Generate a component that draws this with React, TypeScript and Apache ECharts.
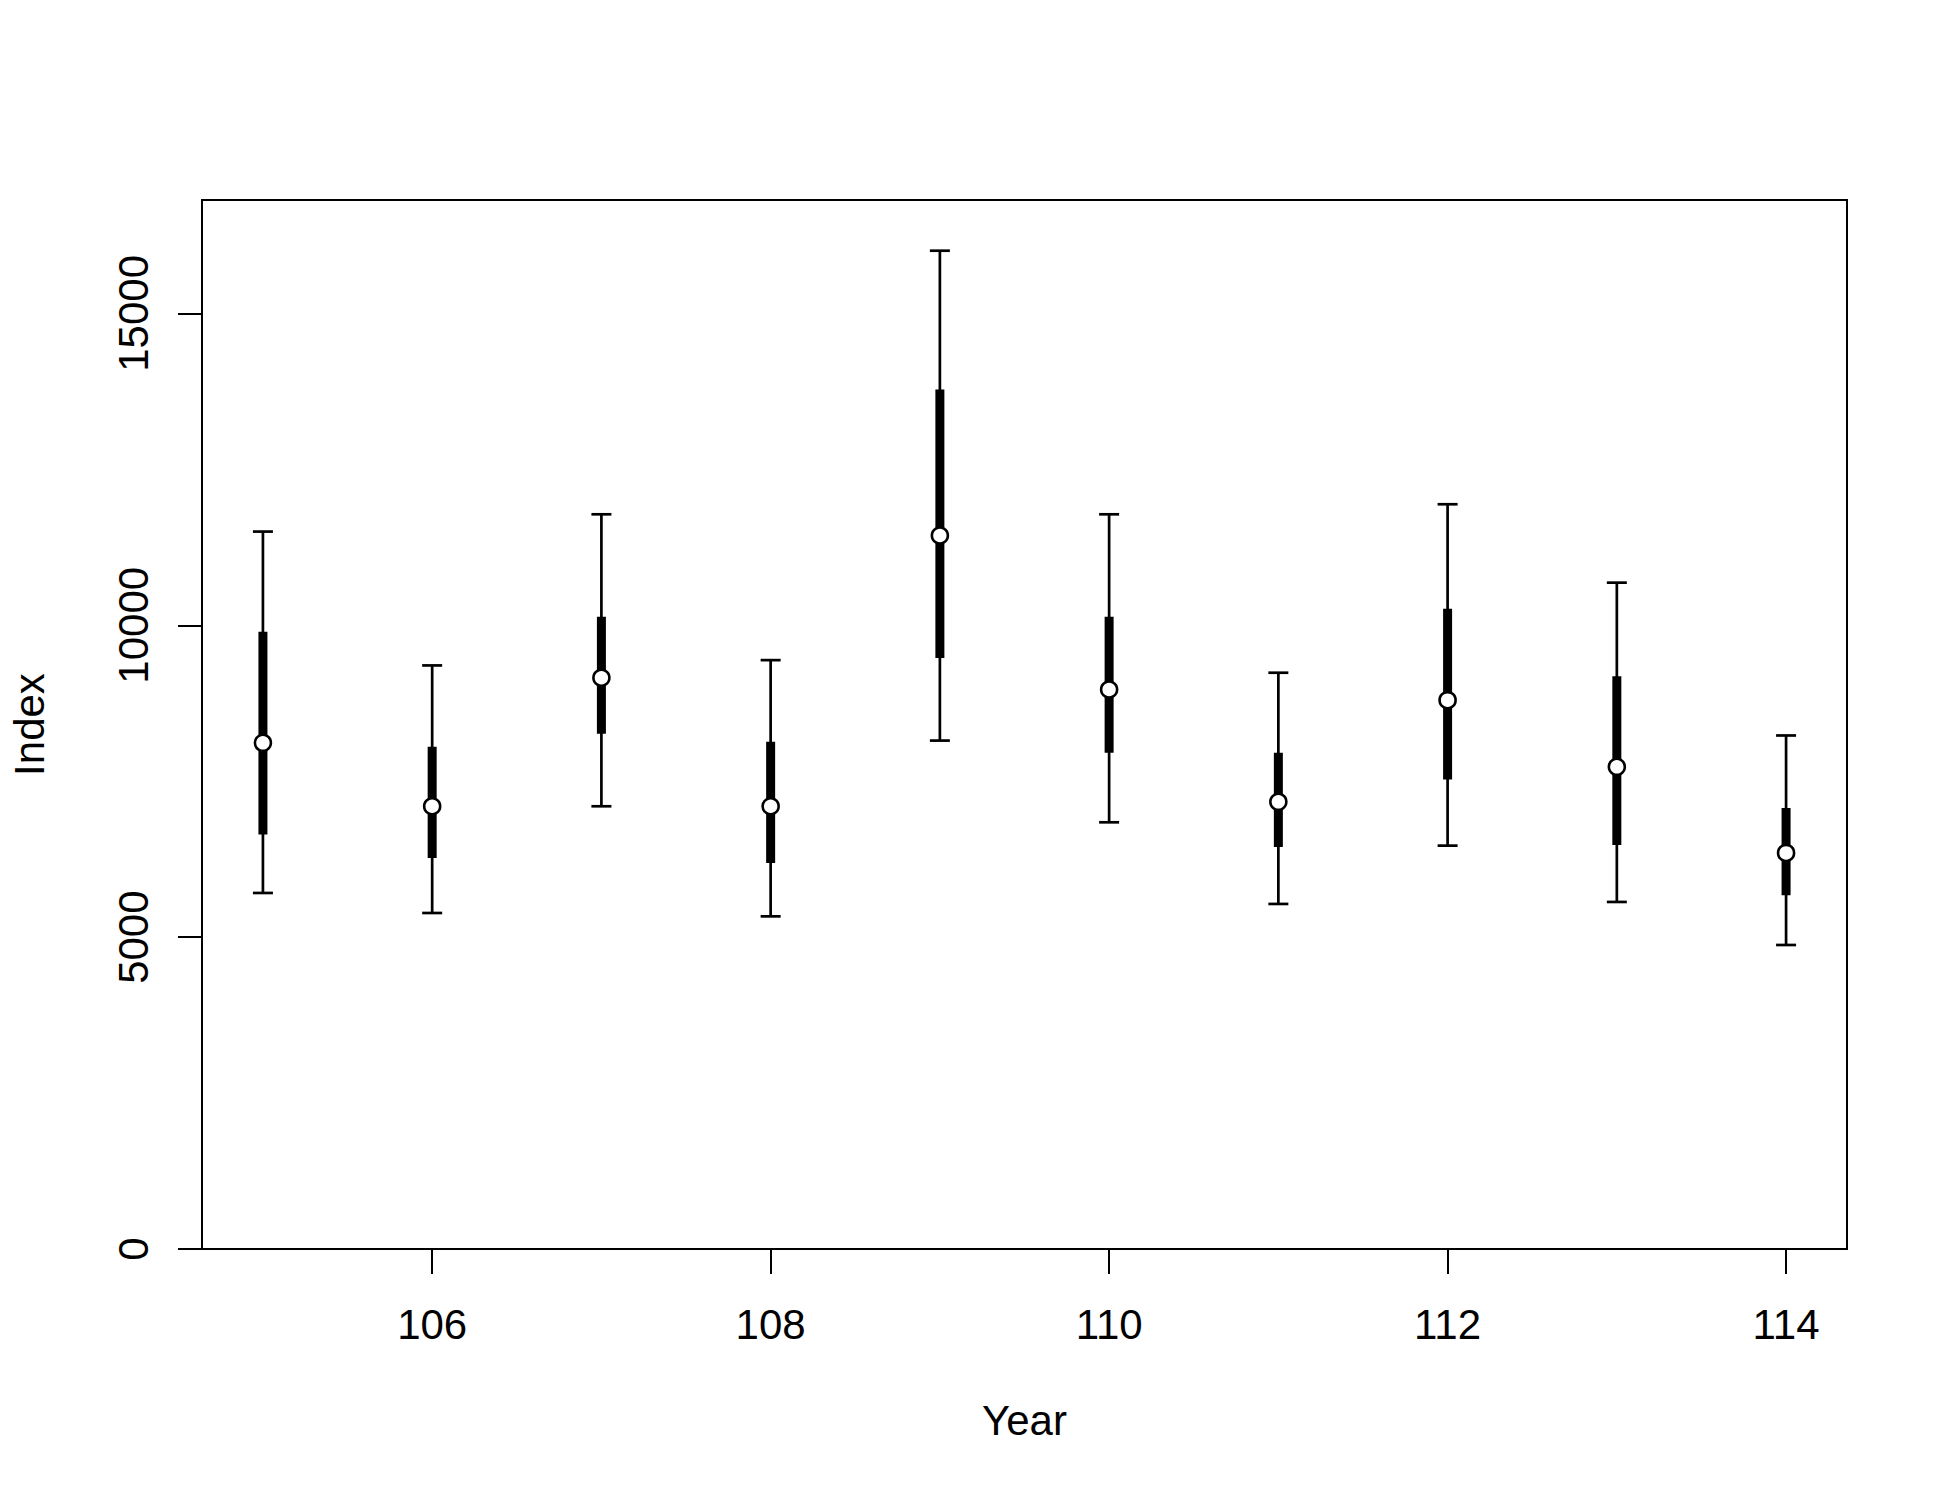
import React, { useEffect, useRef } from "react";
import * as echarts from "echarts";

const years = [105, 106, 107, 108, 109, 110, 111, 112, 113, 114];
const estimate = [8115, 7098, 9159, 7098, 11439, 8971, 7169, 8799, 7730, 6350];
const lower50 = [6644, 6270, 8260, 6190, 9475, 7955, 6446, 7526, 6479, 5670];
const upper50 = [9897, 8051, 10137, 8131, 13780, 10137, 7955, 10266, 9184, 7072];
const lower95 = [5708, 5387, 7098, 5333, 8151, 6841, 5532, 6467, 5564, 4874];
const upper95 = [11502, 9356, 11779, 9441, 16005, 11779, 9239, 11940, 10683, 8233];

const xTicks = [106, 108, 110, 112, 114];
const yTicks = [0, 5000, 10000, 15000];

const FONT = "'Liberation Sans', Arial, sans-serif";

export default function App() {
  const ref = useRef<HTMLDivElement>(null);
  useEffect(() => {
    if (!ref.current) return;
    const chart = echarts.init(ref.current, null, { renderer: "svg" });
    const data = years.map((y, i) => [y, lower95[i], lower50[i], estimate[i], upper50[i], upper95[i]]);
    chart.setOption({
      animation: false,
      backgroundColor: "#ffffff",
      grid: {
        left: 201,
        top: 200,
        width: 1646,
        height: 1049,
        show: true,
        borderColor: "#000",
        borderWidth: 2,
        backgroundColor: "transparent",
      },
      xAxis: {
        type: "value",
        min: 104.64,
        max: 114.36,
        name: "Year",
        nameLocation: "middle",
        nameGap: 150,
        nameTextStyle: { fontFamily: FONT, fontSize: 42, color: "#000" },
        axisLine: { show: true, lineStyle: { color: "#000", width: 2 } },
        axisTick: { show: true, length: 25, customValues: xTicks, lineStyle: { color: "#000", width: 2 } },
        axisLabel: {
          customValues: xTicks,
          margin: 54,
          fontFamily: FONT,
          fontSize: 42,
          color: "#000",
          formatter: (v: number) => String(v),
        },
        splitLine: { show: false },
      },
      yAxis: {
        type: "value",
        min: 0,
        max: 16818,
        name: "Index",
        nameLocation: "middle",
        nameGap: 152,
        nameTextStyle: { fontFamily: FONT, fontSize: 42, color: "#000" },
        axisLine: { show: true, lineStyle: { color: "#000", width: 2 } },
        axisTick: { show: true, length: 24, customValues: yTicks, lineStyle: { color: "#000", width: 2 } },
        axisLabel: {
          customValues: yTicks,
          rotate: 90,
          margin: 48,
          fontFamily: FONT,
          fontSize: 42,
          color: "#000",
          formatter: (v: number) => String(v),
        },
        splitLine: { show: false },
      },
      series: [
        {
          type: "custom",
          data,
          encode: { x: 0, y: [1, 2, 3, 4, 5] },
          renderItem: (params: any, api: any) => {
            const x = api.value(0);
            const pLo95 = api.coord([x, api.value(1)]);
            const pLo50 = api.coord([x, api.value(2)]);
            const pMid = api.coord([x, api.value(3)]);
            const pHi50 = api.coord([x, api.value(4)]);
            const pHi95 = api.coord([x, api.value(5)]);
            const cx = pMid[0];
            const thin = { stroke: "#000", lineWidth: 2.7 };
            return {
              type: "group",
              children: [
                { type: "line", shape: { x1: cx, y1: pLo95[1], x2: cx, y2: pHi95[1] }, style: thin },
                { type: "line", shape: { x1: cx - 10, y1: pLo95[1], x2: cx + 10, y2: pLo95[1] }, style: thin },
                { type: "line", shape: { x1: cx - 10, y1: pHi95[1], x2: cx + 10, y2: pHi95[1] }, style: thin },
                {
                  type: "rect",
                  shape: { x: cx - 4.5, y: pHi50[1], width: 9, height: pLo50[1] - pHi50[1] },
                  style: { fill: "#000" },
                },
                {
                  type: "circle",
                  shape: { cx, cy: pMid[1], r: 8 },
                  style: { fill: "#fff", stroke: "#000", lineWidth: 2.6 },
                },
              ],
            };
          },
        },
      ],
    });
    return () => chart.dispose();
  }, []);
  return (
    <div
      ref={ref}
      style={{ position: "absolute", left: 0, top: 0, width: 1950, height: 1500, background: "#fff" }}
    />
  );
}
